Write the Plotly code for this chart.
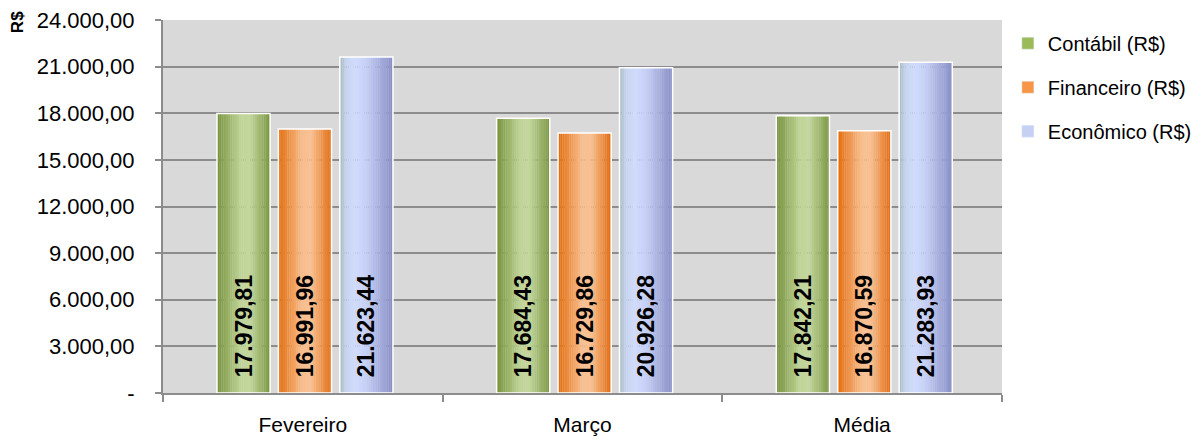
import plotly.graph_objects as go

categories = ["Fevereiro", "Março", "Média"]
series_names = ["Contábil (R$)", "Financeiro (R$)", "Econômico (R$)"]
contabil = [17979.81, 17684.43, 17842.21]
financeiro = [16991.96, 16729.86, 16870.59]
economico = [21623.44, 20926.28, 21283.93]
value_labels = [
    ["17.979,81", "17.684,43", "17.842,21"],
    ["16.991,96", "16.729,86", "16.870,59"],
    ["21.623,44", "20.926,28", "21.283,93"],
]
y_tickvals = [0, 3000, 6000, 9000, 12000, 15000, 18000, 21000, 24000]
y_ticktext = ["-", "3.000,00", "6.000,00", "9.000,00", "12.000,00", "15.000,00",
              "18.000,00", "21.000,00", "24.000,00"]

series_values = [contabil, financeiro, economico]

# gradient stops (position 0..1, hex colour) for each series, left -> right
grad_stops = [
    [(0.0, "#76923A"), (0.45, "#C0D597"), (0.62, "#C3D69B"), (1.0, "#7A9640")],
    [(0.0, "#E46C0A"), (0.45, "#F9BE8E"), (0.62, "#FAC090"), (1.0, "#E36C10")],
    [(0.0, "#A6BAC0"), (0.12, "#C8D5F0"), (0.3, "#D0DBFF"), (0.5, "#C6D0F6"), (1.0, "#888EC6")],
]
legend_colors = ["#9BBB59", "#F79646", "#C6D0F5"]


def hex2rgb(h):
    h = h.lstrip("#")
    return tuple(int(h[i:i + 2], 16) for i in (0, 2, 4))


def interp(stops, t):
    for (p0, c0), (p1, c1) in zip(stops[:-1], stops[1:]):
        if p0 <= t <= p1:
            f = (t - p0) / (p1 - p0) if p1 > p0 else 0
            a, b = hex2rgb(c0), hex2rgb(c1)
            return "rgb(%d,%d,%d)" % tuple(round(a[i] + (b[i] - a[i]) * f) for i in range(3))
    return stops[-1][1]


bar_w = 0.19
step = 0.2196
first_off = -0.307
nstrip = 24

fig = go.Figure()
for s in range(3):
    off = first_off + s * step
    sw = bar_w / nstrip
    for k in range(nstrip):
        col = interp(grad_stops[s], (k + 0.5) / nstrip)
        fig.add_trace(go.Bar(
            x=categories, y=series_values[s], width=sw * 1.05, offset=off + k * sw,
            marker=dict(color=col, line=dict(width=0)), showlegend=False, hoverinfo="skip"))
    # outline + labels
    fig.add_trace(go.Bar(
        x=categories, y=series_values[s], width=bar_w, offset=off,
        marker=dict(color="rgba(0,0,0,0)", line=dict(color="white", width=1.5)),
        text=["\u00a0\u00a0" + t for t in value_labels[s]], textposition="inside",
        insidetextanchor="start", textangle=-90, constraintext="none",
        textfont=dict(family="Liberation Sans, Arial", size=23, color="black", weight="bold"),
        showlegend=False, hoverinfo="skip"))

for s in range(3):
    fig.add_trace(go.Bar(
        x=categories, y=[None, None, None], name=series_names[s],
        marker=dict(color=legend_colors[s]), legendgroup=str(s)))

fig.update_layout(
    width=1204, height=441, barmode="overlay",
    margin=dict(l=163, r=202, t=20, b=48, autoexpand=False),
    plot_bgcolor="#D9D9D9", paper_bgcolor="white",
    font=dict(family="Liberation Sans, Arial", size=22, color="black"),
    legend=dict(x=1.007, y=0.99, xanchor="left", yanchor="top",
                font=dict(size=20), tracegroupgap=15, itemwidth=30,
                bgcolor="rgba(0,0,0,0)"),
    xaxis=dict(type="category", categoryorder="array", categoryarray=categories,
               range=[-0.5, 2.5], tickson="boundaries", ticks="outside", ticklen=7,
               tickcolor="#8C8C8C", tickwidth=1.5, showline=True, linecolor="#8C8C8C",
               linewidth=2, showgrid=False, ticklabelstandoff=12, tickfont=dict(size=21)),
    yaxis=dict(range=[0, 24000], tickvals=y_tickvals, ticktext=y_ticktext,
               ticks="outside", ticklen=6, tickcolor="#8C8C8C", tickwidth=1.5,
               showline=True, linecolor="#8C8C8C", linewidth=2,
               showgrid=True, gridcolor="#8C8C8C", gridwidth=1.5,
               zeroline=False, ticklabelstandoff=16, tickfont=dict(size=22)),
    annotations=[dict(text="<b>R$</b>", xref="paper", yref="paper", x=-0.1725, y=0.995,
                      textangle=-90, showarrow=False, font=dict(size=17),
                      xanchor="center", yanchor="middle")],
)

fig.write_html("out.html")
